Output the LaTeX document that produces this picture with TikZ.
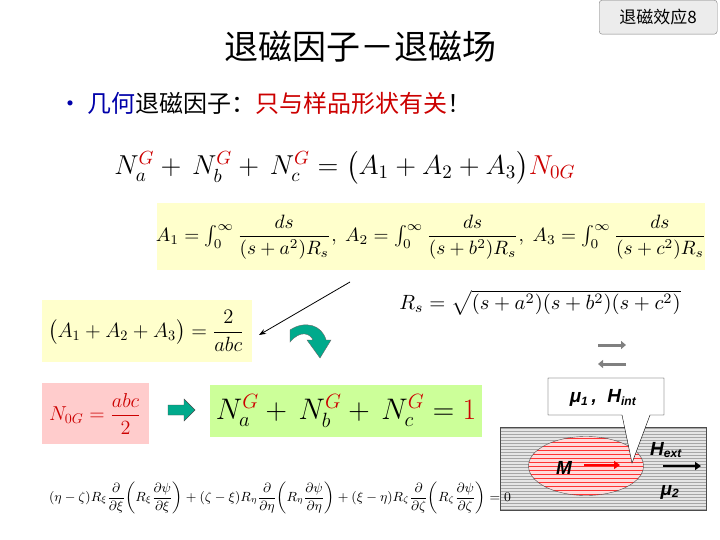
\documentclass[tikz,border=0pt]{standalone}
\usepackage{fontspec}
\usepackage{amsmath}
\setmainfont{Liberation Serif}
\newfontfamily\cjk{Noto Sans CJK SC}
\newfontfamily\hv{Liberation Sans}
\usetikzlibrary{patterns,arrows.meta,shapes.geometric}
\definecolor{ylw}{RGB}{255,255,204}
\definecolor{grn}{RGB}{204,255,153}
\definecolor{pnk}{RGB}{255,204,204}
\definecolor{rd}{RGB}{204,0,0}
\definecolor{bl}{RGB}{0,0,170}
\definecolor{teal2}{RGB}{0,170,140}
\begin{document}
\begin{tikzpicture}[x=1pt,y=-1pt,
  txt/.style={inner sep=0pt},
  mth/.style={inner sep=0pt,transform shape},
  lab/.style={inner sep=0pt,font=\hv\bfseries\itshape\fontsize{19}{21}\selectfont}]
\useasboundingbox (0,0) rectangle (720,540);
\fill[white] (0,0) rectangle (720,540);
% title
\node[txt] (title) at (360,47) {\cjk\fontsize{34}{36}\selectfont 退磁因子－退磁场};
\node[draw=gray,fill=gray!15,rounded corners=3pt,minimum width=118pt,minimum height=34pt,anchor=north west,inner sep=0pt] (tag) at (599,0) {\cjk\fontsize{17}{18}\selectfont 退磁效应8};
% bullet
\node[txt,anchor=west] (bul) at (58,103) {\cjk\fontsize{24}{26}\selectfont \textcolor{bl}{•\ 几何}退磁因子：\textcolor{rd}{只与样品形状有关}！};
% top equation
\node[mth,scale=1.9] (eq1) at (345,168) {\Large $N_a^{\textcolor{rd}{G}}+\,N_b^{\textcolor{rd}{G}}+\,N_c^{\textcolor{rd}{G}}=\big(A_1+A_2+A_3\big)\textcolor{rd}{N_{0G}}$};
% yellow A box
\fill[ylw] (157,203) rectangle (705,270);
\node[mth,scale=1.93] (Aeq) at (431,237) {$A_1=\int_0^\infty\dfrac{ds}{(s+a^2)R_s},\;A_2=\int_0^\infty\dfrac{ds}{(s+b^2)R_s},\;A_3=\int_0^\infty\dfrac{ds}{(s+c^2)R_s}$};
% Rs
\node[mth,scale=2.06] (Rs) at (540,303) {$R_s=\sqrt{(s+a^2)(s+b^2)(s+c^2)}$};
% sum box
\fill[ylw] (42,300) rectangle (252,362);
\node[mth,scale=1.43] (sum) at (146,331) {\Large $\big(A_1+A_2+A_3\big)=\dfrac{2}{abc}$};
\coordinate (lstart) at (350,282);
\draw[-{Stealth[length=7pt]},thick] (lstart) -- (259,335);
% green curved arrow
\fill[teal2,draw=black!60,thin] (290,330) .. controls (305,320) and (322,325) .. (326,340) -- (331,340) -- (320,358) -- (307,340) -- (313,340) .. controls (310,333) and (300,330) .. (290,342) -- cycle;
% pink box
\fill[pnk] (42,383) rectangle (149,444);
\node[mth,scale=1.4] (N0) at (95,414) {\Large \color{rd}$N_{0G}=\dfrac{abc}{2}$};
\fill[teal2,draw=black!70,thin] (168,405) -- (184,405) -- (184,399) -- (195,410) -- (184,421) -- (184,415) -- (168,415) -- cycle;
% green box
\fill[grn] (210,385) rectangle (482,437);
\node[mth,scale=1.72] (eq2) at (346,411) {\LARGE $N_a^{\textcolor{rd}{G}}+\,N_b^{\textcolor{rd}{G}}+\,N_c^{\textcolor{rd}{G}}=\textcolor{rd}{1}$};
% grey arrows
\draw[gray,line width=3pt,-{Triangle[length=5pt,width=8pt]}] (598,345) -- (626,345);
\draw[gray,line width=3pt,-{Triangle[length=5pt,width=8pt]}] (626,364) -- (598,364);
% hatched rect
\fill[gray!20] (500,427) rectangle (706,510);
\fill[pattern=horizontal lines,pattern color=gray!70] (500,427) rectangle (706,510);
\draw[black!70] (500,427) rectangle (706,510);
\fill[pnk!70] (586,466) ellipse (57.5pt and 29.5pt);
\begin{scope}
\clip (586,466) ellipse (57.5pt and 29.5pt);
\foreach \yy in {438,442,...,496} \draw[red!80,thin] (520,\yy) -- (650,\yy);
\end{scope}
\draw[black!70] (586,466) ellipse (57.5pt and 29.5pt);
% callout
\coordinate (tip) at (632,463);
\fill[white,draw=black] (548,378) -- (664,378) -- (664,415) -- (650,415) -- (tip) -- (622,415) -- (548,415) -- cycle;
\node[lab] (mu1) at (603,398) {μ\textsubscript{\fontsize{12}{12}\selectfont 1}\,,\; H\textsubscript{\fontsize{12}{12}\selectfont int}};
\node[lab] (M) at (564,468) {M};
\coordinate (ma) at (584,465);
\coordinate (mb) at (620,465);
\draw[red,line width=2.5pt,-{Triangle[length=6pt,width=8pt]}] (ma) -- (mb);
\node[lab] (Hext) at (666,450) {H\textsubscript{\fontsize{12}{12}\selectfont ext}};
\coordinate (ha) at (663,466);
\coordinate (hb) at (701,466);
\draw[black,line width=2.5pt,-{Triangle[length=6pt,width=8pt]}] (ha) -- (hb);
\node[lab] (mu2) at (670,492) {μ\textsubscript{\fontsize{12}{12}\selectfont 2}};
% bottom equation
\node[mth,scale=1.48] (bot) at (280,498) {\small $(\eta-\zeta)R_\xi\dfrac{\partial}{\partial\xi}\!\left(R_\xi\dfrac{\partial\psi}{\partial\xi}\right)+(\zeta-\xi)R_\eta\dfrac{\partial}{\partial\eta}\!\left(R_\eta\dfrac{\partial\psi}{\partial\eta}\right)+(\xi-\eta)R_\zeta\dfrac{\partial}{\partial\zeta}\!\left(R_\zeta\dfrac{\partial\psi}{\partial\zeta}\right)=0$};
\end{tikzpicture}
\end{document}
